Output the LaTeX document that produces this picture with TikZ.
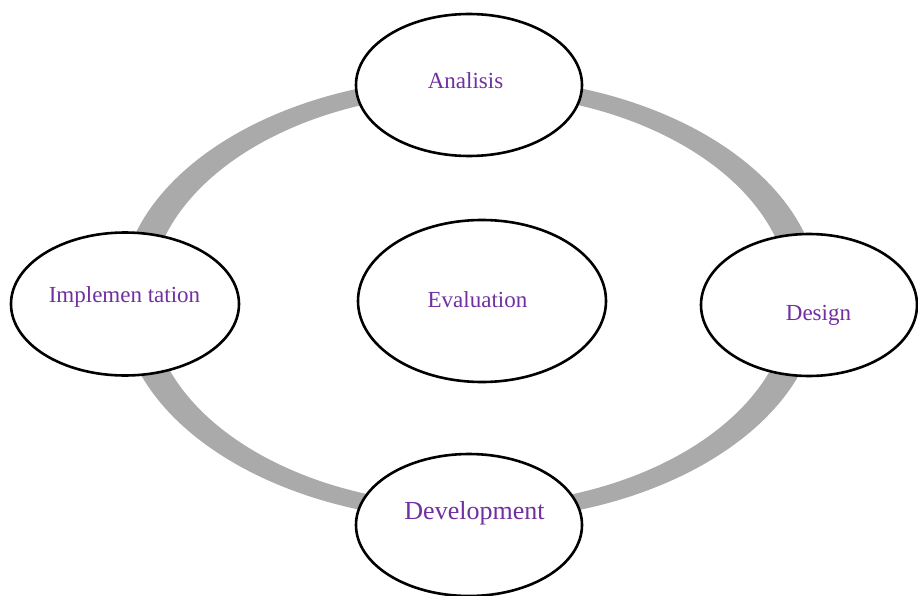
\documentclass[tikz,border=0pt]{standalone}
\usepackage{fontspec}
\setmainfont{Liberation Serif}
\usepackage{tikz}
\usetikzlibrary{shapes,positioning,calc}
\definecolor{phasetext}{HTML}{7030A0}
\definecolor{ringgray}{HTML}{AAAAAA}

\begin{document}
\begin{tikzpicture}[x=1pt,y=-1pt,
phase/.style={ellipse,draw=black,line width=2.6pt,fill=white,inner sep=0pt},
lbl/.style={anchor=base,text=phasetext,inner sep=0pt,font=\fontsize{23}{27}\selectfont},
ring/.style={fill=ringgray,even odd rule}]
\useasboundingbox (0,0) rectangle (918,596);
\coordinate (mid) at (470,299);
% ring, wider at the sides
\fill[ring] (mid) ellipse [x radius=350pt, y radius=222pt]
            (mid) ellipse [x radius=320pt, y radius=206pt];

\node[phase,minimum width=226pt,minimum height=142pt] (anal) at (469,85) {};
\node[phase,minimum width=228pt,minimum height=143pt] (impl) at (125,304) {};
\node[phase,minimum width=216pt,minimum height=142pt] (design) at (809,305) {};
\node[phase,minimum width=226pt,minimum height=142pt] (dev) at (469,525) {};
\node[phase,minimum width=248pt,minimum height=162pt] (eval) at (482,301) {};

\node[lbl] (analt) at (465.5,89) {Analisis};
\node[lbl] (implt) at (124.5,302) {Implemen tation};
\node[lbl] (designt) at (818.5,320) {Design};
\node[lbl,font=\fontsize{26}{30}\selectfont] (devt) at (474.5,519) {Development};
\node[lbl] (evalt) at (477.5,307) {Evaluation};
\end{tikzpicture}
\end{document}
